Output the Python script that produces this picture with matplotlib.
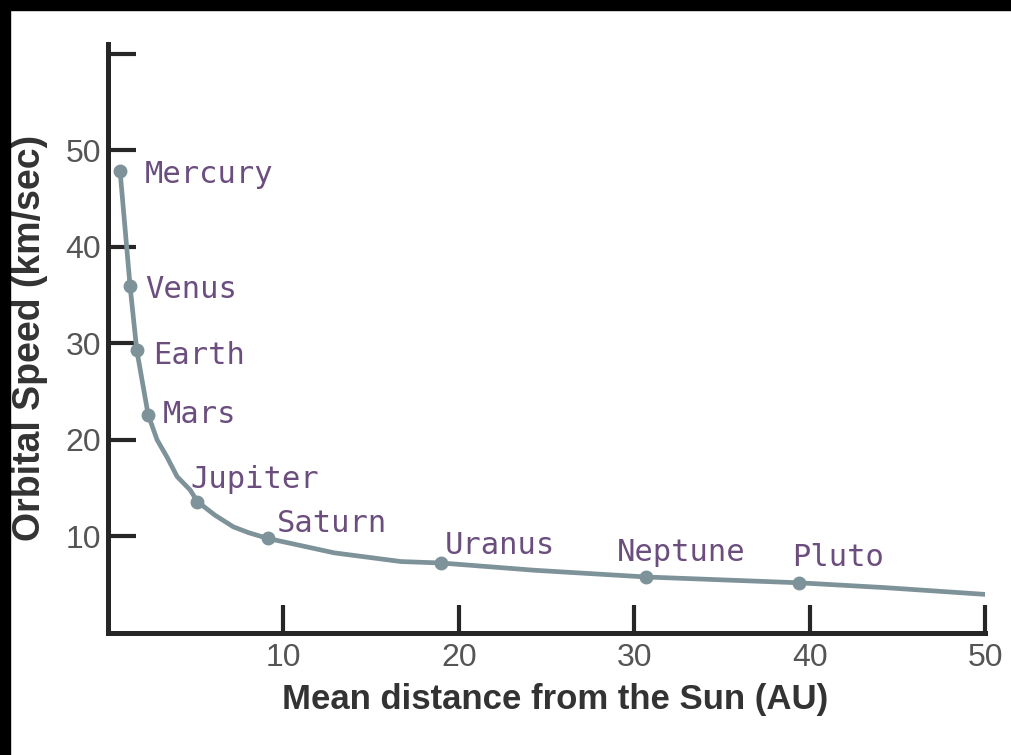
import matplotlib
matplotlib.use("Agg")
import matplotlib.pyplot as plt
from matplotlib.patches import Rectangle

# ---- data ----
planets = ["Mercury", "Venus", "Earth", "Mars", "Jupiter", "Saturn", "Uranus", "Neptune", "Pluto"]
distance_au = [0.69, 1.26, 1.64, 2.29, 5.1, 9.1, 19.0, 30.7, 39.4]
speed_kms = [47.8, 35.9, 29.3, 22.6, 13.6, 9.8, 7.25, 5.8, 5.2]

# points along the drawn curve
curve_x = [0.69, 1.26, 1.64, 2.29, 2.8, 3.37, 3.94, 4.69, 5.1, 6.1, 7.14, 8.0, 9.1,
           12.9, 16.7, 19.0, 24.3, 30.7, 39.4, 44.3, 50.0]
curve_y = [47.8, 35.9, 29.3, 22.6, 20.0, 18.2, 16.2, 14.8, 13.6, 12.2, 11.0, 10.4, 9.8,
           8.3, 7.4, 7.25, 6.5, 5.8, 5.2, 4.7, 4.0]

x_ticks = [10, 20, 30, 40, 50]
y_ticks = [10, 20, 30, 40, 50, 60]
y_tick_labels = ["10", "20", "30", "40", "50", ""]

# label offsets in pixels (layout only)
label_offsets = [(25, -3), (15, -3), (16, -5), (15, 0), (-7, 22), (9, 15), (3, 17), (-30, 24), (-7, 25)]

W, H = 1011, 755
fig = plt.figure(figsize=(W / 100, H / 100), dpi=100)
fig.patch.set_facecolor("white")

ax = fig.add_axes([108 / W, 1 - 633 / H, (985 - 108) / W, (633 - 44) / H])
ax.set_xlim(0, 50)
ax.set_ylim(0, 61)

line_col = "#7e9399"
ax.plot(curve_x, curve_y, color=line_col, lw=3.4, solid_capstyle="round",
        solid_joinstyle="round", zorder=3)
ax.plot(distance_au, speed_kms, "o", color=line_col, ms=9, zorder=4)

hand_font = "DejaVu Sans Mono"
for name, x, y, off in zip(planets, distance_au, speed_kms, label_offsets):
    ax.annotate(name, (x, y), xytext=off, textcoords="offset pixels",
                ha="left", va="center", fontsize=22, color="#6b4d7e",
                family=hand_font, zorder=5)

for s in ["top", "right"]:
    ax.spines[s].set_visible(False)
for s in ["left", "bottom"]:
    ax.spines[s].set_linewidth(3.6)
    ax.spines[s].set_color("#262626")
    ax.spines[s].set_capstyle("projecting")

sans = ["Liberation Sans", "DejaVu Sans"]
ax.set_xticks(x_ticks)
ax.set_xticklabels([str(t) for t in x_ticks])
ax.set_yticks(y_ticks)
ax.set_yticklabels(y_tick_labels)
ax.tick_params(axis="both", direction="in", length=20, width=3, color="#262626",
               labelsize=23, labelcolor="#555555")
ax.tick_params(axis="x", pad=7)
ax.tick_params(axis="y", pad=5)
for lab in ax.get_xticklabels() + ax.get_yticklabels():
    lab.set_family(sans)

fig.text(555 / W, 1 - 699 / H, "Mean distance from the Sun (AU)", ha="center", va="center",
         fontsize=25, fontweight="bold", color="#333333", family=sans)
fig.text(30 / W, 1 - 338 / H, "Orbital Speed (km/sec)", ha="center", va="center",
         rotation=90, fontsize=27, fontweight="bold", color="#333333", family=sans)

# black borders of the picture
fig.patches.append(Rectangle((0, 1 - 10 / H), 1, 10 / H, transform=fig.transFigure,
                             color="black", zorder=10))
fig.patches.append(Rectangle((0, 0), 10 / W, 1, transform=fig.transFigure,
                             color="black", zorder=10))

fig.savefig("out.png", dpi=100)
